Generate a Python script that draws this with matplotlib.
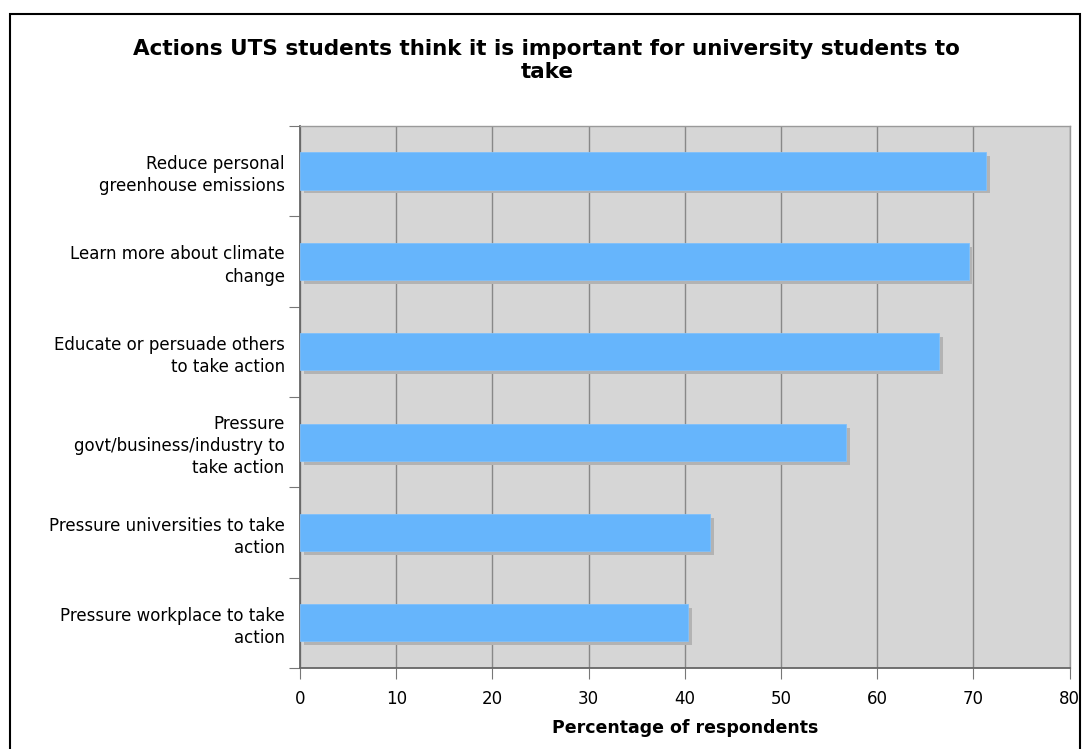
import numpy as np
import matplotlib
matplotlib.use('Agg')
import matplotlib.pyplot as plt
import matplotlib.patheffects as pe
from matplotlib.patches import Rectangle

categories = [
    'Reduce personal\ngreenhouse emissions',
    'Learn more about climate\nchange',
    'Educate or persuade others\nto take action',
    'Pressure\ngovt/business/industry to\ntake action',
    'Pressure universities to take\naction',
    'Pressure workplace to take\naction',
]
values = [71.3, 69.5, 66.4, 56.8, 42.6, 40.3]
xticks = [0, 10, 20, 30, 40, 50, 60, 70, 80]

plt.rcParams['font.family'] = 'DejaVu Sans'

fig = plt.figure(figsize=(10.87, 7.49), dpi=100)
ax = fig.add_axes([0.276, 0.108, 0.708, 0.724])

# border around the chart (open at the bottom)
fig.patches.append(Rectangle((10 / 1087, -0.05), 1070 / 1087, 1.05 - 14 / 749,
                             transform=fig.transFigure, fill=False,
                             edgecolor='black', linewidth=1.5))

n = len(categories)
y = np.arange(n)[::-1]
shadow = [pe.SimplePatchShadow(offset=(2.8, -2.8), shadow_rgbFace='#b3b3b3', alpha=1.0),
          pe.Normal()]
ax.barh(y, values, height=0.41, color='#66b5fc', edgecolor='#7fc0fb',
        linewidth=0.6, zorder=3, path_effects=shadow)

ax.set_facecolor('#d6d6d6')
ax.set_xlim(0, 80)
ax.set_ylim(-0.5, n - 0.5)
ax.set_xticks(xticks)
ax.set_xticklabels([str(t) for t in xticks], fontsize=12)
ax.set_yticks(y)
ax.set_yticklabels(categories, fontsize=12, linespacing=1.3)
ax.tick_params(axis='y', which='major', length=0, pad=11)
ax.set_yticks(np.arange(n + 1) - 0.5, minor=True)
ax.tick_params(axis='y', which='minor', length=8, color='#777777', width=0.8)
ax.tick_params(axis='x', which='major', length=8, color='#777777', width=0.8, pad=8)

ax.grid(axis='x', color='#888888', linewidth=1, zorder=1)
ax.set_axisbelow(True)

for side in ['left', 'bottom']:
    ax.spines[side].set_color('#666666')
    ax.spines[side].set_linewidth(1.3)
for side in ['top', 'right']:
    ax.spines[side].set_color('#9a9a9a')
    ax.spines[side].set_linewidth(1.0)

ax.set_xlabel('Percentage of respondents', fontsize=12.5, fontweight='bold', labelpad=8)
fig.text(0.503, 0.919,
         'Actions UTS students think it is important for university students to\ntake',
         ha='center', va='center', fontsize=15.5, fontweight='bold', linespacing=1.15)

fig.savefig('out.png', dpi=100)
